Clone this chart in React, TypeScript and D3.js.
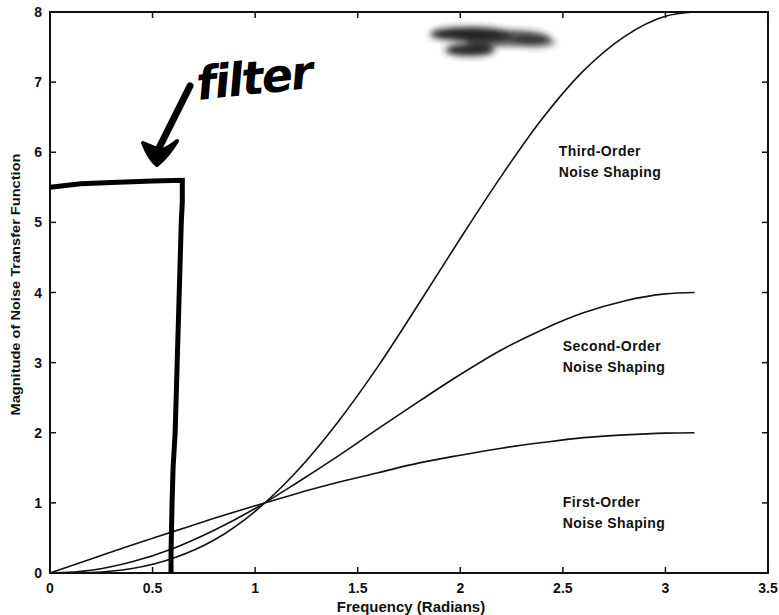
import React from 'react';
import * as d3 from 'd3';

// frequencies (radians) where curves were read
const freq = [0, 0.2, 0.4, 0.6, 0.8, 1.0, 1.2, 1.4, 1.6, 1.8, 2.0, 2.2, 2.4, 2.6, 2.8, 3.0, 3.1416];
const firstOrder = [0, 0.2, 0.4, 0.59, 0.78, 0.96, 1.13, 1.29, 1.43, 1.57, 1.68, 1.78, 1.86, 1.93, 1.97, 1.995, 2.0];
const secondOrder = [0, 0.04, 0.16, 0.35, 0.61, 0.92, 1.28, 1.66, 2.06, 2.45, 2.83, 3.18, 3.47, 3.71, 3.88, 3.98, 4.0];
const thirdOrder = [0, 0.008, 0.063, 0.21, 0.47, 0.88, 1.44, 2.14, 2.95, 3.85, 4.77, 5.66, 6.48, 7.16, 7.65, 7.94, 8.0];

// hand-drawn filter outline
const filterX = [0, 0.15, 0.3, 0.5, 0.645, 0.645, 0.64, 0.63, 0.62, 0.61, 0.6, 0.595, 0.59, 0.59];
const filterY = [5.5, 5.55, 5.57, 5.59, 5.6, 5.3, 5.0, 4.0, 3.0, 2.0, 1.5, 1.0, 0.3, 0];

const xTicks = [0, 0.5, 1, 1.5, 2, 2.5, 3, 3.5];
const yTicks = [0, 1, 2, 3, 4, 5, 6, 7, 8];

const labels = [
  { lines: ['Third-Order', 'Noise Shaping'], x: 2.48, y: 5.95 },
  { lines: ['Second-Order', 'Noise Shaping'], x: 2.5, y: 3.17 },
  { lines: ['First-Order', 'Noise Shaping'], x: 2.5, y: 0.94 },
];

const W = 779;
const H = 615;
const margin = { left: 50, right: 11, top: 12, bottom: 42 };

export default function App() {
  const x = d3.scaleLinear().domain([0, 3.5]).range([margin.left, W - margin.right]);
  const y = d3.scaleLinear().domain([0, 8]).range([H - margin.bottom, margin.top]);

  const line = d3.line<number>()
    .x((_, i) => x(freq[i]))
    .y(d => y(d))
    .curve(d3.curveMonotoneX);

  const filterLine = d3.line<number>()
    .x((d) => x(d))
    .y((_, i) => y(filterY[i]));

  const font = 'Liberation Sans, Arial, sans-serif';
  const x0 = x(0), x1 = x(3.5), y0 = y(0), y1 = y(8);

  return (
    <div>
      <style>{'body{margin:0;background:#fff}'}</style>
      <svg width={W} height={H} style={{ display: 'block' }}>
        <defs>
          <filter id="blur" x="-20%" y="-50%" width="140%" height="200%">
            <feGaussianBlur stdDeviation="3" />
          </filter>
        </defs>
        <rect width={W} height={H} fill="#fff" />

        {/* scanner smudge */}
        <g filter="url(#blur)" fill="#222">
          <ellipse cx={470} cy={34} rx={40} ry={7} />
          <ellipse cx={505} cy={38} rx={45} ry={8} opacity={0.8} />
          <ellipse cx={470} cy={50} rx={25} ry={6} />
          <ellipse cx={535} cy={42} rx={20} ry={5} opacity={0.7} />
        </g>

        {/* frame */}
        <rect x={x0} y={y1} width={x1 - x0} height={y0 - y1} fill="none" stroke="#111" strokeWidth={2} />

        {/* ticks */}
        {xTicks.map(t => (
          <g key={'x' + t}>
            <line x1={x(t)} x2={x(t)} y1={y0} y2={y0 - 6} stroke="#111" strokeWidth={1.5} />
            <line x1={x(t)} x2={x(t)} y1={y1} y2={y1 + 6} stroke="#111" strokeWidth={1.5} />
            <text x={x(t)} y={y0 + 20} textAnchor="middle" fontFamily={font} fontWeight="bold" fontSize={14} fill="#111">{t}</text>
          </g>
        ))}
        {yTicks.map(t => (
          <g key={'y' + t}>
            <line x1={x0} x2={x0 + 6} y1={y(t)} y2={y(t)} stroke="#111" strokeWidth={1.5} />
            <line x1={x1} x2={x1 - 6} y1={y(t)} y2={y(t)} stroke="#111" strokeWidth={1.5} />
            <text x={x0 - 8} y={y(t) + 5} textAnchor="end" fontFamily={font} fontWeight="bold" fontSize={14} fill="#111">{t}</text>
          </g>
        ))}

        {/* curves */}
        {[firstOrder, secondOrder, thirdOrder].map((s, i) => (
          <path key={i} d={line(s) || ''} fill="none" stroke="#111" strokeWidth={1.6} />
        ))}

        {/* filter */}
        <path d={filterLine(filterX) || ''} fill="none" stroke="#000" strokeWidth={5} strokeLinejoin="miter" />

        {/* arrow */}
        <path d="M190,86 L158,150" stroke="#000" strokeWidth={7} strokeLinecap="round" fill="none" />
        <path d="M143,143 Q150,160 157,165 Q168,156 177,141 Q166,150 160,150 Q150,146 143,143 Z" fill="#000" stroke="#000" strokeWidth={4} strokeLinejoin="round" />
        <text x={198} y={100} fontFamily="DejaVu Sans, sans-serif" fontStyle="italic" fontWeight="bold" fontSize={46} fill="#000" transform="rotate(-6 198 100)" letterSpacing={-2}>filter</text>

        {/* curve labels */}
        {labels.map((l, i) => (
          <text key={i} x={x(l.x)} y={y(l.y)} fontFamily={font} fontWeight="bold" fontSize={14} letterSpacing={0.4} fill="#111">
            {l.lines.map((s, j) => (
              <tspan key={j} x={x(l.x)} dy={j === 0 ? 0 : 21}>{s}</tspan>
            ))}
          </text>
        ))}

        {/* axis titles */}
        <text x={(x0 + x1) / 2 + 2} y={H - 3} textAnchor="middle" fontFamily={font} fontWeight="bold" fontSize={15} fill="#111">Frequency (Radians)</text>
        <text transform={`translate(20,${(y0 + y1) / 2 - 8}) rotate(-90)`} textAnchor="middle" fontFamily={font} fontWeight="bold" fontSize={13} fill="#111" textLength={262} lengthAdjust="spacingAndGlyphs">Magnitude of Noise Transfer Function</text>
      </svg>
    </div>
  );
}
